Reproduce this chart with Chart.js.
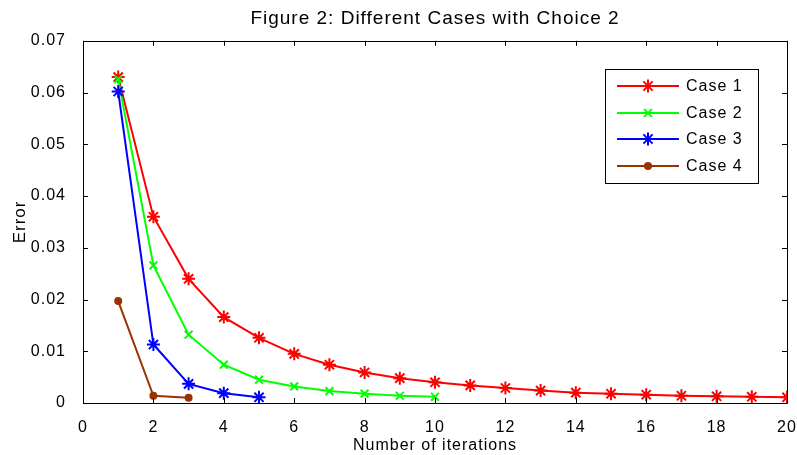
<!DOCTYPE html>
<html>
<head>
    <title>Figure 2: Different Cases with Choice 2</title>
    <script src="https://cdn.jsdelivr.net/npm/chart.js"></script>
    <style>
        body { margin: 0; background: #fff; }
        #wrap { position: relative; width: 797px; height: 455px; }
    </style>
</head>
<body>
<div id="wrap"><canvas id="errChart" width="797" height="455"></canvas></div>
<script>
    // values
    const case1 = [0.0630, 0.0360, 0.0240, 0.0166, 0.0126, 0.0095, 0.0074, 0.0059, 0.0048, 0.0040,
                   0.0034, 0.0029, 0.0024, 0.0020, 0.0018, 0.0016, 0.0014, 0.0013, 0.0012, 0.0011];
    const case2 = [0.0626, 0.0266, 0.0132, 0.0074, 0.0045, 0.0032, 0.0023, 0.0018, 0.0014, 0.0012];
    const case3 = [0.0602, 0.0113, 0.0037, 0.0019, 0.0011];
    const case4 = [0.0197, 0.0014, 0.0010];

    const caseNames = ['Case 1', 'Case 2', 'Case 3', 'Case 4'];
    const caseColors = ['#ff0000', '#00ff00', '#0000ff', '#993300'];
    const caseMarkers = ['star', 'crossRot', 'star', 'circle'];
    const markerSize = [6.5, 5.5, 6.5, 3];
    const allCases = [case1, case2, case3, case4];

    const FONT = 'Arial, "Liberation Sans", sans-serif';

    const datasets = allCases.map((vals, i) => ({
        label: caseNames[i],
        data: vals.map((v, k) => ({ x: k + 1, y: v })),
        borderColor: caseColors[i],
        backgroundColor: caseColors[i],
        borderWidth: 2,
        pointStyle: caseMarkers[i],
        pointRadius: markerSize[i],
        pointBorderWidth: 2,
        pointBorderColor: caseColors[i],
        pointBackgroundColor: caseColors[i],
        tension: 0,
        order: 3 - i
    }));

    // matlab text is a bit wider than Arial, add some letter spacing
    const spacing = {
        id: 'spacing',
        beforeLayout(chart) { chart.ctx.letterSpacing = '1px'; },
        beforeDraw(chart) { chart.ctx.letterSpacing = '1px'; }
    };

    // matlab style box with inward ticks + legend inside the axes
    const matlabAxes = {
        id: 'matlabAxes',
        afterDraw(chart) {
            const ctx = chart.ctx;
            const a = chart.chartArea;
            const xs = chart.scales.x, ys = chart.scales.y;
            const tl = 5;
            ctx.save();
            ctx.strokeStyle = '#000';
            ctx.lineWidth = 1;
            ctx.beginPath();
            ctx.rect(Math.round(a.left) + 0.5, Math.round(a.top) + 0.5,
                     Math.round(a.right - a.left), Math.round(a.bottom - a.top));
            xs.ticks.forEach(t => {
                const px = Math.round(xs.getPixelForValue(t.value)) + 0.5;
                ctx.moveTo(px, a.bottom); ctx.lineTo(px, a.bottom - tl);
                ctx.moveTo(px, a.top); ctx.lineTo(px, a.top + tl);
            });
            ys.ticks.forEach(t => {
                const py = Math.round(ys.getPixelForValue(t.value)) + 0.5;
                ctx.moveTo(a.left, py); ctx.lineTo(a.left + tl, py);
                ctx.moveTo(a.right, py); ctx.lineTo(a.right - tl, py);
            });
            ctx.stroke();

            // legend
            const lx = 605, ly = 69, lw = 153, lh = 114;
            ctx.fillStyle = '#fff';
            ctx.fillRect(lx, ly, lw, lh);
            ctx.strokeStyle = '#000';
            ctx.strokeRect(lx + 0.5, ly + 0.5, lw, lh);
            ctx.font = '16px ' + FONT;
            ctx.textBaseline = 'middle';
            ctx.textAlign = 'left';
            const rowY = [86, 113, 139, 166];
            caseNames.forEach((name, i) => {
                const y = rowY[i];
                ctx.strokeStyle = caseColors[i];
                ctx.lineWidth = 2;
                ctx.beginPath();
                ctx.moveTo(617, y); ctx.lineTo(679, y);
                ctx.stroke();
                ctx.fillStyle = caseColors[i];
                Chart.helpers.drawPoint(ctx, {
                    pointStyle: caseMarkers[i],
                    radius: markerSize[i],
                    borderWidth: 2,
                    rotation: 0
                }, 648, y);
                ctx.fillStyle = '#000';
                ctx.fillText(name, 686, y + 1);
            });
            ctx.restore();
        }
    };

    const errChart = new Chart(document.getElementById('errChart').getContext('2d'), {
        type: 'line',
        data: { datasets: datasets },
        plugins: [spacing, matlabAxes],
        options: {
            responsive: false,
            animation: false,
            layout: { padding: { right: 0, top: 0, left: 0, bottom: 0 } },
            plugins: {
                legend: { display: false },
                tooltip: { enabled: false },
                title: {
                    display: true,
                    fullSize: false,
                    text: 'Figure 2: Different Cases with Choice 2',
                    color: '#000',
                    font: { family: FONT, size: 19, weight: 'normal' },
                    padding: { top: 7, bottom: 11 }
                }
            },
            scales: {
                x: {
                    type: 'linear',
                    min: 0, max: 20,
                    grid: { display: false },
                    border: { display: false },
                    ticks: {
                        stepSize: 2,
                        color: '#000',
                        padding: 7,
                        maxRotation: 0,
                        font: { family: FONT, size: 16 }
                    },
                    title: {
                        display: true,
                        text: 'Number of iterations',
                        color: '#000',
                        padding: 0,
                        font: { family: FONT, size: 16 }
                    },
                    afterFit(s) {
                        s.height = 52;
                        s.paddingRight = 10;   // the "20" label may run to the edge, like the original
                    }
                },
                y: {
                    min: 0, max: 0.07,
                    grid: { display: false },
                    border: { display: false },
                    ticks: {
                        stepSize: 0.01,
                        color: '#000',
                        padding: 9,
                        font: { family: FONT, size: 16 },
                        callback: v => String(+v.toFixed(2))
                    },
                    title: {
                        display: true,
                        text: 'Error',
                        color: '#000',
                        padding: { top: 10, bottom: 0 },
                        font: { family: FONT, size: 17 }
                    },
                    afterFit(s) { s.width = 83; }
                }
            }
        }
    });
</script>
</body>
</html>
